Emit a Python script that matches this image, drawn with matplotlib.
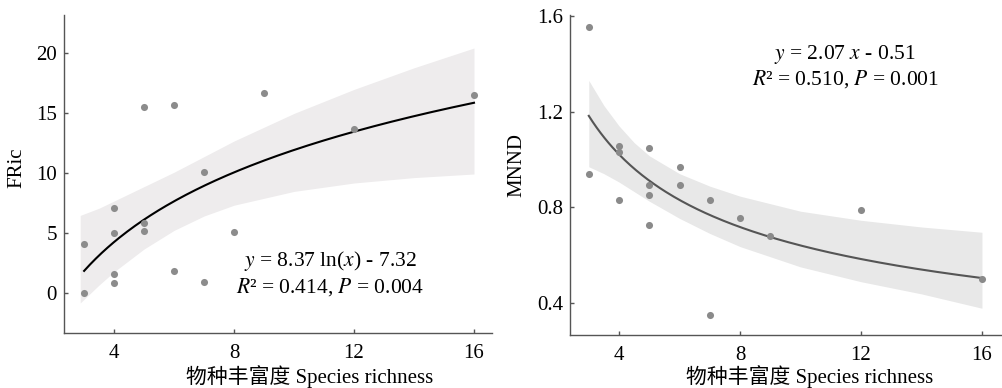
import numpy as np
import matplotlib
matplotlib.use("Agg")
import matplotlib.pyplot as plt

plt.rcParams["font.family"] = ["Liberation Serif", "Noto Sans CJK SC"]
plt.rcParams["mathtext.fontset"] = "stix"

rich = [3, 3, 4, 4, 4, 4, 5, 5, 5, 6, 6, 7, 7, 8, 9, 12, 16]
fric = [4.08, 0.0, 7.1, 5.0, 1.64, 0.9, 15.5, 5.9, 5.17, 15.67, 1.9, 10.08, 0.97, 5.14, 16.7, 13.7, 16.53]

rich2 = [3, 3, 4, 4, 4, 5, 5, 5, 5, 6, 6, 7, 7, 8, 9, 12, 16]
mnnd = [1.553, 0.94, 1.057, 1.03, 0.83, 1.048, 0.894, 0.85, 0.724, 0.969, 0.893, 0.83, 0.348, 0.753, 0.68, 0.79, 0.50]

# confidence band edges
band1_x = [2.87, 3.5, 4, 5, 6, 7, 8, 10, 12, 14, 16]
band1_hi = [6.5, 7.1, 7.7, 8.9, 10.1, 11.4, 12.7, 15.0, 17.0, 18.8, 20.45]
band1_lo = [-0.8, 0.7, 1.8, 3.7, 5.25, 6.45, 7.35, 8.5, 9.2, 9.65, 9.95]

band2_x = [3, 3.5, 4, 4.5, 5, 6, 7, 8, 10, 12, 14, 16]
band2_hi = [1.33, 1.225, 1.14, 1.07, 1.015, 0.94, 0.888, 0.846, 0.783, 0.745, 0.717, 0.695]
band2_lo = [0.969, 0.940, 0.905, 0.865, 0.825, 0.753, 0.690, 0.635, 0.550, 0.488, 0.437, 0.377]

# fitted models as printed on the chart
a1, b1 = 8.37, -7.32
a2, b2 = 2.07, -0.51

fig = plt.figure(figsize=(10.02, 3.88), dpi=100)
ax1 = fig.add_axes([0.0639, 0.1418, 0.4271, 0.8195])
ax2 = fig.add_axes([0.5689, 0.1366, 0.4301, 0.8247])

xs = np.linspace(3, 16, 200)

ax1.fill_between(band1_x, band1_lo, band1_hi, color="#eeeced", lw=0)
ax1.plot(xs, a1 * np.log(xs) + b1, color="black", lw=1.5)
ax1.scatter(rich, fric, s=26, color="#8c8c8c", lw=0, zorder=3)
ax1.set_xlim(2.33, 16.6)
ax1.set_ylim(-3.3, 23.2)
ax1.set_yticks([0, 5, 10, 15, 20])
ax1.set_ylabel("FRic", fontsize=15)
ax1.yaxis.set_label_coords(-0.088, 0.52)
ax1.text(11.2, 2.7, r"$y$ = 8.37 ln($x$) - 7.32", ha="center", va="center", fontsize=15.5)
ax1.text(11.2, 0.55, r"$R$² = 0.414, $P$ = 0.004", ha="center", va="center", fontsize=15.5)

ax2.fill_between(band2_x, band2_lo, band2_hi, color="#e8e8e8", lw=0)
ax2.plot(xs, a2 * xs ** b2, color="#555555", lw=1.5)
ax2.scatter(rich2, mnnd, s=26, color="#8a8a8a", lw=0, zorder=3)
ax2.set_xlim(2.38, 16.63)
ax2.set_ylim(0.265, 1.604)
ax2.set_yticks([0.4, 0.8, 1.2, 1.6])
ax2.set_ylabel("MNND", fontsize=15)
ax2.yaxis.set_label_coords(-0.102, 0.53)
ax2.text(11.48, 1.44, r"$y$ = 2.07 $x$ - 0.51", ha="center", va="center", fontsize=15.5)
ax2.text(11.48, 1.335, r"$R$² = 0.510, $P$ = 0.001", ha="center", va="center", fontsize=15.5)

for ax, lx, ly in [(ax1, 0.575, -0.1), (ax2, 0.557, -0.093)]:
    ax.set_xticks([4, 8, 12, 16])
    ax.set_xlabel("物种丰富度 Species richness", fontsize=15, va="top")
    ax.xaxis.set_label_coords(lx, ly)
    for side in ["top", "right"]:
        ax.spines[side].set_visible(False)
    for side in ["left", "bottom"]:
        ax.spines[side].set_color("#555555")
        ax.spines[side].set_linewidth(1.0)
    ax.tick_params(direction="in", length=3, width=1.0, color="#555555",
                   labelsize=15, labelcolor="black")
    ax.tick_params(axis="x", pad=8)
    ax.tick_params(axis="y", pad=5)

fig.savefig("out.png", dpi=100)
